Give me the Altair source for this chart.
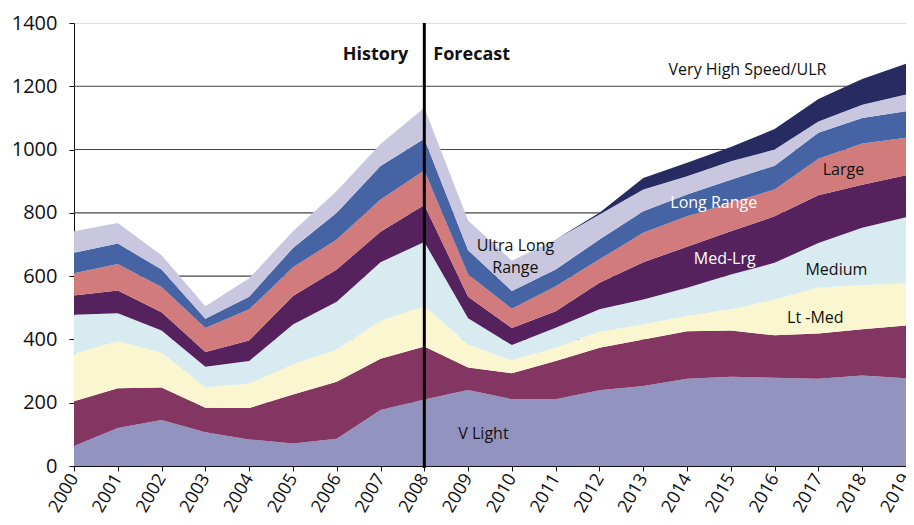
import altair as alt
import pandas as pd

years = list(range(2000, 2020))

series = ["V Light", "Light", "Lt-Med", "Medium", "Med-Lrg", "Large",
          "Long Range", "Ultra Long Range", "Very High Speed/ULR"]

v_light = [63, 120, 145, 107, 84, 71, 86, 177, 210, 240, 211, 211, 239, 253, 276, 282, 279, 276, 286, 277]
light = [142, 126, 103, 77, 99, 155, 180, 162, 168, 71, 82, 121, 135, 147, 150, 146, 134, 143, 146, 167]
lt_med = [150, 148, 110, 65, 77, 95, 102, 119, 128, 73, 41, 42, 50, 47, 48, 67, 113, 144, 140, 133]
medium = [123, 89, 70, 65, 72, 126, 151, 186, 202, 83, 48, 63, 71, 79, 89, 110, 116, 142, 181, 209]
med_lrg = [61, 72, 58, 46, 65, 90, 102, 96, 117, 68, 54, 52, 84, 118, 130, 137, 147, 151, 136, 133]
large = [70, 83, 80, 76, 98, 91, 95, 102, 109, 70, 61, 79, 74, 93, 96, 90, 85, 115, 130, 118]
long_range = [65, 65, 55, 29, 40, 61, 84, 106, 100, 77, 56, 53, 63, 68, 69, 73, 75, 82, 81, 84]
ultra_long = [68, 65, 45, 40, 58, 53, 69, 70, 98, 94, 96, 95, 79, 69, 58, 58, 51, 36, 42, 53]
very_high = [0, 0, 0, 0, 0, 0, 0, 0, 0, 0, 0, 0, 5, 36, 42, 45, 65, 71, 81, 97]

values = [v_light, light, lt_med, medium, med_lrg, large, long_range, ultra_long, very_high]
colors = ["#9393c0", "#843662", "#faf6cf", "#d8ebf1", "#55225e", "#d27b7d",
          "#4663a4", "#c9c7e0", "#272b62"]

grid_values = [200, 400, 600, 800, 1000, 1200]
y_ticks = [0, 200, 400, 600, 800, 1000, 1200, 1400]

# annotation labels: text, year, value, color
ann_text = ["Very High Speed/ULR", "Large", "Long  Range", "Med-Lrg", "Medium",
            "Lt -Med", "V Light", "Ultra Long", "Range"]
ann_year = [2015.38, 2017.57, 2014.61, 2014.86, 2017.41, 2016.93, 2009.35, 2010.08, 2010.08]
ann_value = [1252, 936, 831, 654, 619, 468, 101, 695, 626]
ann_color = ["#111111", "#111111", "#ffffff", "#ffffff", "#111111", "#111111",
             "#111111", "#111111", "#111111"]

rows = []
for i, (name, vals) in enumerate(zip(series, values)):
    for y, v in zip(years, vals):
        rows.append({"year": y, "series": name, "value": v, "order": i})
df = pd.DataFrame(rows)

FONT = "Open Sans"
W, H = 832, 443

x_scale = alt.Scale(domain=[2000, 2019], nice=False, zero=False)
y_scale = alt.Scale(domain=[0, 1400], nice=False)

grid = alt.Chart(pd.DataFrame({"g": grid_values})).mark_rule(
    color="#444444", strokeWidth=1.1
).encode(
    y=alt.Y("g:Q", scale=y_scale),
    x=alt.value(0), x2=alt.value(W)
)

areas = alt.Chart(df).mark_area(interpolate="linear", opacity=1).encode(
    x=alt.X("year:Q", scale=x_scale,
            axis=alt.Axis(values=years, format="d", labelAngle=300,
                          labelAlign="right", labelBaseline="middle",
                          labelFontSize=18, labelFont=FONT, labelColor="#111",
                          tickSize=5, tickColor="#111", domainColor="#111",
                          labelPadding=4, grid=False, title=None)),
    y=alt.Y("value:Q", stack="zero", scale=y_scale,
            axis=alt.Axis(values=y_ticks, format="d", labelFontSize=20, labelFont=FONT,
                          labelColor="#111", tickSize=5, tickColor="#111",
                          domainColor="#111", labelPadding=12, grid=False, title=None)),
    color=alt.Color("series:N", scale=alt.Scale(domain=series, range=colors), legend=None),
    order=alt.Order("order:Q", sort="ascending"),
)

divider = alt.Chart(pd.DataFrame({"year": [2008]})).mark_rule(
    color="black", strokeWidth=3
).encode(x=alt.X("year:Q", scale=x_scale), y=alt.value(0), y2=alt.value(H + 2))

hist = alt.Chart(pd.DataFrame({"year": [2008], "v": [1300], "t": ["History"]})).mark_text(
    align="right", baseline="middle", dx=-16, fontSize=18, fontWeight="bold", font=FONT, color="#111"
).encode(x=alt.X("year:Q", scale=x_scale), y=alt.Y("v:Q", scale=y_scale), text="t:N")

fore = alt.Chart(pd.DataFrame({"year": [2008], "v": [1300], "t": ["Forecast"]})).mark_text(
    align="left", baseline="middle", dx=9, fontSize=18, fontWeight="bold", font=FONT, color="#111"
).encode(x=alt.X("year:Q", scale=x_scale), y=alt.Y("v:Q", scale=y_scale), text="t:N")

ann_df = pd.DataFrame({"t": ann_text, "year": ann_year, "v": ann_value, "c": ann_color})
ann = alt.Chart(ann_df).mark_text(
    align="center", baseline="middle", fontSize=16, font=FONT
).encode(
    x=alt.X("year:Q", scale=x_scale), y=alt.Y("v:Q", scale=y_scale),
    text="t:N", color=alt.Color("c:N", scale=None)
)

chart = alt.layer(grid, areas, divider, hist, fore, ann).properties(
    width=W, height=H,
    autosize=alt.AutoSizeParams(type="none"),
    padding={"left": 66, "top": 15, "right": 0, "bottom": 51},
).configure_view(stroke=None).configure(background="white")

chart.save("out.html", embed_options={"renderer": "svg", "actions": False})
